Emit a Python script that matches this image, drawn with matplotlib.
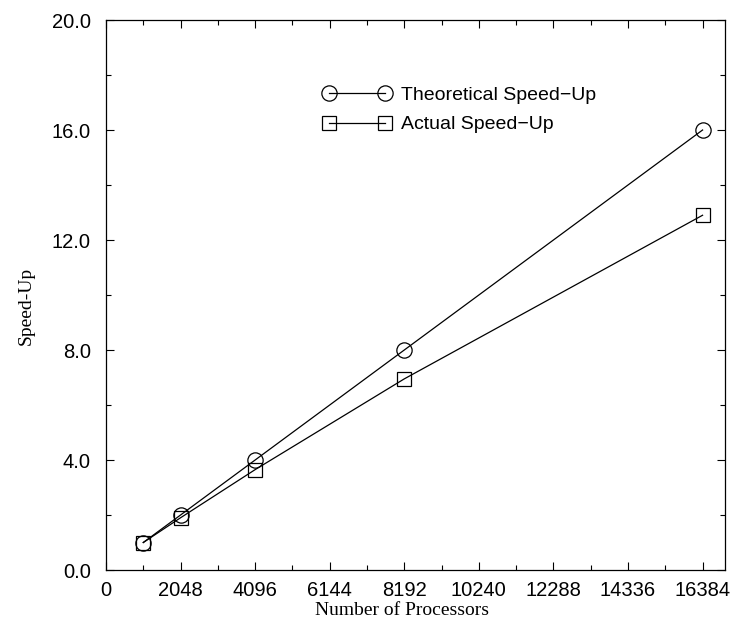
import matplotlib
matplotlib.use('Agg')
from matplotlib import pyplot as plt
from matplotlib.ticker import MultipleLocator, FormatStrFormatter

processors = [1024, 2048, 4096, 8192, 16384]
theoretical = [1.0, 2.0, 4.0, 8.0, 16.0]
actual = [1.0, 1.9, 3.65, 6.95, 12.9]

x_ticks = [0, 2048, 4096, 6144, 8192, 10240, 12288, 14336, 16384]

sans = 'Liberation Sans'
serif = 'Liberation Serif'

fig = plt.figure(figsize=(7.31, 6.21), dpi=100)
ax = fig.add_axes([106 / 731, 1 - 570 / 621, 619 / 731, 550 / 621])

ax.plot(processors, theoretical, color='black', lw=0.9, marker='o', ms=11,
        mfc='none', mec='black', mew=0.9, label='Theoretical Speed\u2212Up')
ax.plot(processors, actual, color='black', lw=0.9, marker='s', ms=10,
        mfc='none', mec='black', mew=0.9, label='Actual Speed\u2212Up')

ax.set_xlim(0, 17000)
ax.set_ylim(0, 20)
ax.set_xticks(x_ticks)
ax.xaxis.set_minor_locator(MultipleLocator(1024))
ax.yaxis.set_major_locator(MultipleLocator(4))
ax.yaxis.set_minor_locator(MultipleLocator(2))
ax.yaxis.set_major_formatter(FormatStrFormatter('%.1f'))

ax.tick_params(which='both', direction='in', top=True, right=True, width=0.8)
ax.tick_params(which='major', length=6)
ax.tick_params(which='minor', length=3.5)
ax.tick_params(axis='x', pad=8)
ax.tick_params(axis='y', pad=11)
for lab in ax.get_xticklabels() + ax.get_yticklabels():
    lab.set_fontfamily(sans)
    lab.set_fontsize(14.5)

for s in ax.spines.values():
    s.set_linewidth(0.9)

ax.set_xlabel('Number of Processors', fontfamily=serif, fontsize=14, labelpad=0.5)
ax.set_ylabel('Speed-Up', fontfamily=serif, fontsize=14, labelpad=12)
ax.xaxis.set_label_coords(0.478, -0.058)
ax.yaxis.label.set_y(0.48)

leg = ax.legend(loc='upper left', bbox_to_anchor=(0.351, 0.8795), frameon=False,
                numpoints=2, handlelength=3.48, handletextpad=0.54,
                borderpad=0, borderaxespad=0, labelspacing=0.61,
                prop={'family': sans, 'size': 14})

plt.savefig('out.png', dpi=100)
